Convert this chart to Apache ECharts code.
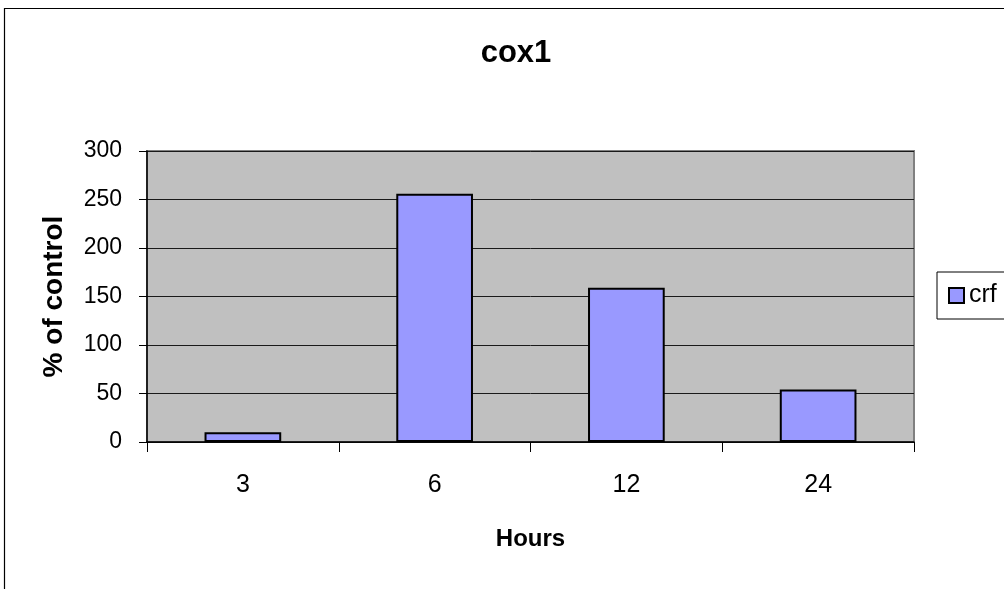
<!DOCTYPE html>
<html>
<head>
<meta charset="utf-8">
<title>cox1</title>
<script src="https://cdn.jsdelivr.net/npm/echarts@6/dist/echarts.min.js"></script>
<style>
  html, body { margin: 0; padding: 0; background: #ffffff; }
  #chart { width: 1004px; height: 589px; }
</style>
</head>
<body>
<div id="chart"></div>
<script>
// Time points (hours) and the crf response as % of control
const hours = ['3', '6', '12', '24'];
const crfValues = [10, 256, 159, 54];
const yTicks = { min: 0, max: 300, interval: 50 };

const FONT = "'Liberation Sans', Arial, sans-serif";

const chart = echarts.init(document.getElementById('chart'), null, { renderer: 'canvas' });

chart.setOption({
  backgroundColor: '#ffffff',
  animation: false,
  title: {
    text: 'cox1',
    left: 511,
    top: 33,
    textAlign: 'center',
    textStyle: { fontFamily: FONT, fontSize: 31, fontWeight: 'bold', color: '#000' }
  },
  // outer chart frame (runs past the right and bottom edges)
  graphic: [{
    type: 'rect',
    shape: { x: 4.5, y: 8.5, width: 1200, height: 800 },
    style: { fill: 'none', stroke: '#000', lineWidth: 1.2 },
    silent: true,
    z: 0
  }],
  legend: {
    data: ['crf'],
    left: 937,
    top: 272,
    orient: 'vertical',
    padding: [11, 40, 11, 11],
    borderColor: '#000',
    borderWidth: 1,
    backgroundColor: '#ffffff',
    itemWidth: 15,
    itemHeight: 15,
    icon: 'rect',
    textStyle: { fontFamily: FONT, fontSize: 25, color: '#000' }
  },
  grid: {
    left: 147,
    right: 90,
    top: 151,
    bottom: 147,
    show: true,
    backgroundColor: '#c0c0c0',
    borderColor: '#808080',
    borderWidth: 2,
    containLabel: false
  },
  xAxis: {
    type: 'category',
    data: hours,
    boundaryGap: true,
    name: 'Hours',
    nameLocation: 'middle',
    nameGap: 85,
    nameTextStyle: { fontFamily: FONT, fontSize: 24, fontWeight: 'bold', color: '#000' },
    axisLine: { show: true, lineStyle: { color: '#000', width: 1.5 } },
    axisTick: { show: true, length: 10, alignWithLabel: false, lineStyle: { color: '#000', width: 1 } },
    axisLabel: { fontFamily: FONT, fontSize: 25, color: '#000', margin: 31 },
    splitLine: { show: false }
  },
  yAxis: {
    type: 'value',
    min: yTicks.min,
    max: yTicks.max,
    interval: yTicks.interval,
    name: '% of control',
    nameLocation: 'middle',
    nameRotate: 90,
    nameGap: 79,
    nameTextStyle: { fontFamily: FONT, fontSize: 28, fontWeight: 'bold', color: '#000' },
    axisLine: { show: true, lineStyle: { color: '#000', width: 1.5 } },
    axisTick: { show: true, length: 8, lineStyle: { color: '#000', width: 1 } },
    axisLabel: { fontFamily: FONT, fontSize: 23, color: '#000', margin: 25 },
    splitLine: { show: true, lineStyle: { color: '#1a1a1a', width: 1 } }
  },
  series: [{
    name: 'crf',
    type: 'bar',
    data: crfValues,
    barWidth: '40%',
    itemStyle: { color: '#9999ff', borderColor: '#000', borderWidth: 2 }
  }]
});
</script>
</body>
</html>
